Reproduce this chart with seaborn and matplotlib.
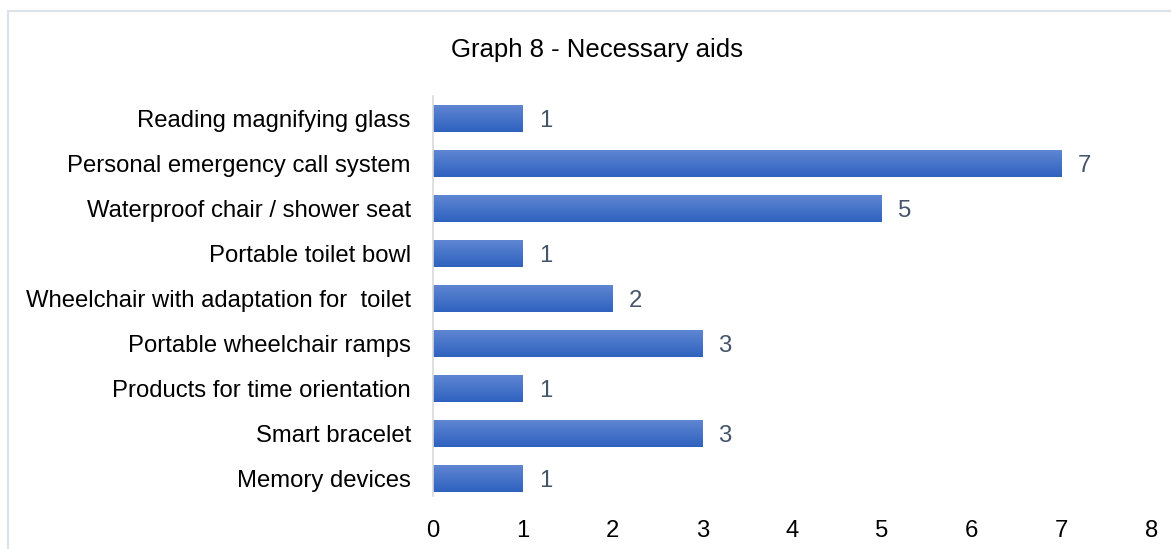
import numpy as np
import pandas as pd
import matplotlib
matplotlib.use("Agg")
import matplotlib.pyplot as plt
from matplotlib.colors import LinearSegmentedColormap
from matplotlib.patches import Rectangle
import seaborn as sns

categories = [
    "Reading magnifying glass",
    "Personal emergency call system",
    "Waterproof chair / shower seat",
    "Portable toilet bowl",
    "Wheelchair with adaptation for  toilet",
    "Portable wheelchair ramps",
    "Products for time orientation",
    "Smart bracelet",
    "Memory devices",
]
counts = [1, 7, 5, 1, 2, 3, 1, 3, 1]
x_ticks = [0, 1, 2, 3, 4, 5, 6, 7, 8]
title = "Graph 8 - Necessary aids"

sns.set_theme(style="white")
plt.rcParams["font.family"] = ["Liberation Sans", "DejaVu Sans"]

df = pd.DataFrame({"aid": categories, "count": counts})

fig = plt.figure(figsize=(11.71, 5.49), dpi=100)
ax = fig.add_axes([0.3698, 0.0883, 0.6133, 0.7377])

sns.barplot(data=df, x="count", y="aid", orient="h", color="#4472c4",
            width=0.6, ax=ax)

# vertical gradient fill on each bar: lighter at top, deeper blue at bottom
grad_cmap = LinearSegmentedColormap.from_list("bar", ["#2e62bf", "#5f86d3"])
grad = np.linspace(0, 1, 256).reshape(-1, 1)
for patch in list(ax.patches):
    x0, y0 = patch.get_x(), patch.get_y()
    w, h = patch.get_width(), patch.get_height()
    patch.set_alpha(0)
    img = ax.imshow(grad, cmap=grad_cmap, aspect="auto",
                    extent=[x0, x0 + w, y0 + h, y0], origin="lower",
                    interpolation="bicubic", zorder=2)
    clip = Rectangle((x0, y0), w, h, transform=ax.transData)
    img.set_clip_path(clip)

label_size = 17.2
for i, v in enumerate(counts):
    ax.text(v + 0.18, i, str(v), va="center_baseline", ha="left",
            fontsize=label_size, color="#44546a")

ax.set_xlim(0, 8)
ax.set_ylim(len(categories) - 0.5, -0.5)
ax.set_xticks(x_ticks)
ax.set_xticklabels([str(t) for t in x_ticks])
ax.set_xlabel("")
ax.set_ylabel("")
ax.tick_params(axis="both", length=0, labelsize=label_size, colors="#000000")
ax.tick_params(axis="x", pad=14)
ax.tick_params(axis="y", pad=16)
for side in ["top", "right", "bottom"]:
    ax.spines[side].set_visible(False)
ax.spines["left"].set_color("#d9d9d9")
ax.spines["left"].set_linewidth(1.2)
ax.spines["left"].set_bounds(len(categories) - 0.6, -0.5)

fig.text(597 / 1171, 1 - 48 / 549, title, ha="center", va="center_baseline",
         fontsize=18.5, color="#000000")

# outer chart frame
fig.patches.append(Rectangle((8 / 1171, -0.1), 1.2, 1 - 11 / 549 + 0.1,
                             transform=fig.transFigure, fill=False,
                             edgecolor="#dde2e8", linewidth=1.5))

fig.savefig("out.png", dpi=100)
